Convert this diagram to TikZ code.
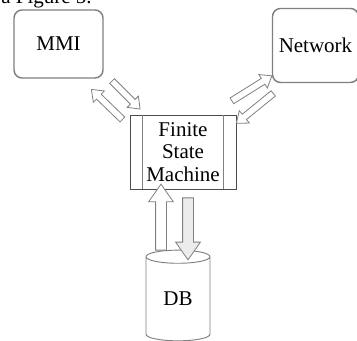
\documentclass[tikz,border=0pt]{standalone}
\usepackage{fontspec}
\setmainfont{Liberation Serif}
\usetikzlibrary{calc,shapes.geometric,shapes.arrows}

\tikzset{
  txt/.style={font=\fontsize{15.75pt}{17pt}\selectfont},
  softbox/.style={txt,draw=gray,line width=1.1pt,rounded corners=6pt,inner sep=0pt},
  fsmbox/.style={txt,draw=black!70,line width=0.6pt,align=center,inner sep=0pt},
  dbshape/.style={txt,cylinder,shape border rotate=90,aspect=0.45,draw=gray,line width=0.7pt,inner sep=0pt},
  hollow/.style={single arrow,draw=gray,line width=0.6pt,fill=white,inner xsep=0pt,inner ysep=2.25pt,
    single arrow head extend=3.4pt,single arrow tip angle=75,anchor=center},
  bighollow/.style={hollow,inner ysep=3.75pt,single arrow head extend=5.25pt,single arrow tip angle=70}
}

\newcommand{\blockarrow}[3][]{%
  \path let \p1=($(#3)-(#2)$), \n1={atan2(\y1,\x1)}, \n2={veclen(\x1,\y1)} in
    node[hollow,#1,rotate=-\n1,minimum height=\n2] at ($(#2)!0.5!(#3)$) {};}

\begin{document}
\begin{tikzpicture}[x=0.75pt,y=0.75pt,yscale=-1,xscale=1]
\useasboundingbox (0,0) rectangle (357,341);

% Text Node
\node[txt,anchor=base west,inner sep=0pt] (cap) at (1,4) {a Figure 5.};

% Boxes
\node[softbox,minimum width=66.75pt,minimum height=51pt] (mmi) at (58.5,44) {MMI};
\node[softbox,minimum width=64.5pt,minimum height=55.5pt] (net) at (315.5,45.5) {Network};
\node[fsmbox,minimum width=79.5pt,minimum height=55.5pt] (fsm) at (183,152) {Finite\\State\\Machine};
\draw[gray,line width=1pt] ([xshift=9.75pt]fsm.north west) -- ([xshift=9.75pt]fsm.south west);
\draw[gray,line width=1pt] ([xshift=-9.75pt]fsm.north east) -- ([xshift=-9.75pt]fsm.south east);
\node[dbshape,minimum width=48pt,minimum height=68pt] (db) at (178,299) {DB};

% Arrow ends
\coordinate (mmiout) at (110.5,79.5);
\coordinate (fsmin1) at (138.5,107.5);
\coordinate (fsmout1) at (124,121);
\coordinate (mmiin) at (93,91);
\coordinate (fsmout2) at (230,102);
\coordinate (netin) at (270,77);
\coordinate (netout) at (275,92);
\coordinate (fsmin2) at (238,122);
\coordinate (dbout) at (161,254);
\coordinate (fsmin3) at (161,188);
\coordinate (fsmout3) at (188,194);
\coordinate (dbin) at (188,256);

% Block arrows
\blockarrow{mmiout}{fsmin1}
\blockarrow{fsmout1}{mmiin}
\blockarrow{fsmout2}{netin}
\blockarrow{netout}{fsmin2}
\blockarrow[bighollow]{dbout}{fsmin3}
\blockarrow[bighollow,fill=gray!15]{fsmout3}{dbin}

\end{tikzpicture}
\end{document}
